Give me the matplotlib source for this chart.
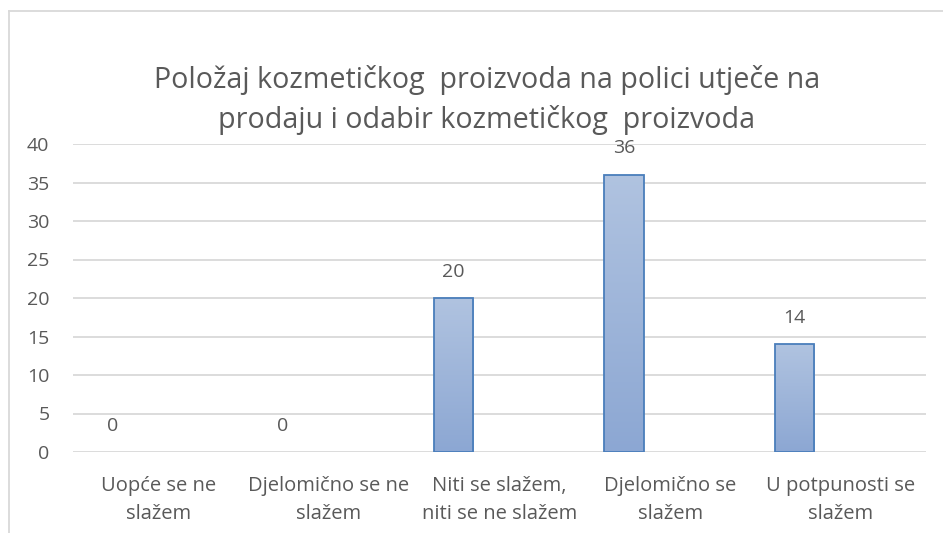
import matplotlib.pyplot as plt
import numpy as np
from matplotlib.lines import Line2D
from matplotlib.colors import LinearSegmentedColormap

categories = ["Uopće se ne\nslažem", "Djelomično se ne\nslažem", "Niti se slažem,\nniti se ne slažem",
              "Djelomično se\nslažem", "U potpunosti se\nslažem"]
values = [0, 0, 20, 36, 14]
yticks = [0, 5, 10, 15, 20, 25, 30, 35, 40]
title = "Položaj kozmetičkog  proizvoda na polici utječe na\nprodaju i odabir kozmetičkog  proizvoda"

text_color = "#595959"
plt.rcParams['font.family'] = ['Open Sans', 'DejaVu Sans']

fig = plt.figure(figsize=(9.43, 5.33), dpi=100)
ax = fig.add_axes([73 / 943, 1 - 452 / 533, (926 - 73) / 943, (452 - 144) / 533])

x = np.arange(len(categories))
offset = -0.27
width = 0.23
bars = ax.bar(x + offset, values, width, facecolor='none', edgecolor='#4A7EBB', linewidth=1.3, zorder=3)

# vertical gradient inside each bar; zero bars get no outline
grad = np.linspace(0, 1, 256).reshape(-1, 1)
cmap = LinearSegmentedColormap.from_list('g', ['#8CA7D3', '#B0C3E0'])
for b in bars:
    if b.get_height() <= 0:
        b.set_edgecolor('none')
        continue
    im = ax.imshow(grad, cmap=cmap, aspect='auto', origin='lower', zorder=2,
                   extent=[b.get_x(), b.get_x() + b.get_width(), 0, b.get_height()])
    im.set_clip_path(b)

for xi, v in zip(x, values):
    ax.annotate(str(v), (xi + offset, v), xytext=(0, 19), textcoords='offset points',
                ha='center', va='center', color=text_color, fontsize=14)

ax.set_xlim(-0.5, len(categories) - 0.5)
ax.set_ylim(0, 40)
ax.set_yticks(yticks)
ax.set_xticks(x)
ax.set_xticklabels(categories, linespacing=1.55)
ax.tick_params(axis='both', length=0, labelsize=14, labelcolor=text_color)
ax.tick_params(axis='x', labelsize=14.5, pad=17)
ax.tick_params(axis='y', pad=17)
ax.grid(axis='y', color='#D9D9D9', linewidth=1.3, zorder=0)
ax.set_axisbelow(True)
for s in ax.spines.values():
    s.set_visible(False)

fig.text(487 / 943, 1 - 100 / 533, title, ha='center', va='center', fontsize=20.6,
         color=text_color, linespacing=1.4)

# chart area border (partially cropped in the screenshot)
fig.add_artist(Line2D([9 / 943, 9 / 943], [0, 1 - 11 / 533], color='#D9D9D9', linewidth=1.3))
fig.add_artist(Line2D([9 / 943, 1], [1 - 11 / 533, 1 - 11 / 533], color='#D9D9D9', linewidth=1.3))

fig.savefig('out.png', dpi=100)
